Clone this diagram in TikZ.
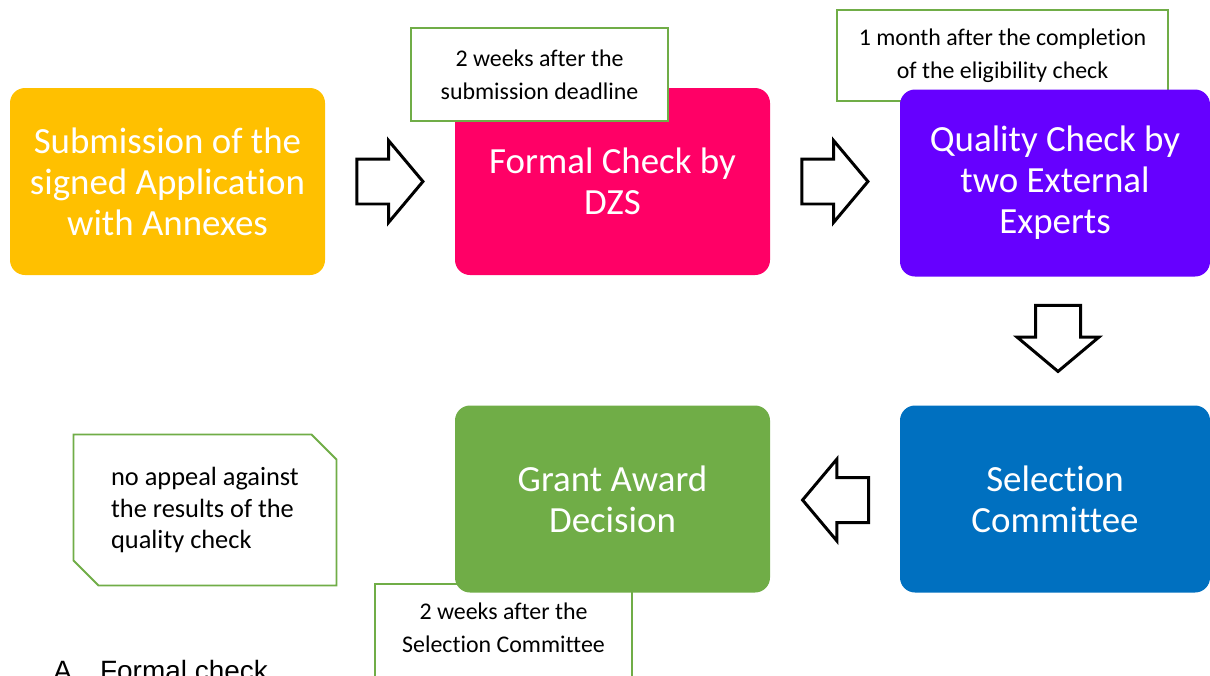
\documentclass[tikz,border=0pt]{standalone}
\usepackage{fontspec}
\setmainfont{Carlito}[Ligatures=NoCommon]
\newfontfamily\arialfont{Liberation Sans}
\usetikzlibrary{shapes.arrows,shapes.misc}

\definecolor{subyellow}{HTML}{FFC000}
\definecolor{checkpink}{HTML}{FF0066}
\definecolor{qualpurple}{HTML}{6600FF}
\definecolor{selblue}{HTML}{0070C0}
\definecolor{grantgreen}{HTML}{70AD47}

\begin{document}
\begin{tikzpicture}[
    stage/.style={rounded corners=0.3cm, minimum width=6.3cm, minimum height=3.74cm, align=center, text=white, inner sep=0pt, font=\fontsize{21}{23.3}\selectfont},
    note/.style={draw=grantgreen, line width=1.1pt, fill=white, align=center, inner sep=0pt, font=\fontsize{13.6}{18.7}\selectfont},
    bigarr/.style={single arrow, draw=black, fill=white, line width=1.7pt, minimum height=1.32cm, inner xsep=0pt, inner ysep=0.42cm, single arrow head extend=0.37cm, single arrow tip angle=100},
]
\useasboundingbox (0,0) rectangle (24.2,-13.5);
\clip (0,0) rectangle (24.2,-13.5);

% --- Row 1: Submission and Formal Check ---
\node[stage, fill=subyellow] (submit) at (3.35,-3.63) {Submission of the\\signed Application\\with Annexes};
\node[stage, fill=checkpink] (formal) at (12.25,-3.63) {Formal Check by\\DZS};
\node[note, minimum width=5.14cm, minimum height=1.86cm] (formalnote) at (10.79,-1.49) {2 weeks after the\\submission deadline};

% --- Row 1: Quality Check (covers its note) ---
\node[note, minimum width=6.62cm, minimum height=1.82cm] (qualnote) at (20.05,-1.11) {1 month after the completion\\of the eligibility check};
\node[stage, fill=qualpurple, minimum width=6.2cm] (quality) at (21.1,-3.66) {Quality Check by\\two External\\Experts};

% --- Row 2: Selection Committee and Grant Award ---
\node[stage, fill=selblue, minimum width=6.2cm] (select) at (21.1,-9.98) {Selection\\Committee};
\node[draw=grantgreen, line width=1.1pt, fill=white, minimum width=5.14cm, minimum height=2.4cm] (grantnote) at (10.07,-12.88) {};
\node[font=\fontsize{13.6}{18.7}\selectfont, align=center] (granttext) at (10.07,-12.56) {2 weeks after the\\Selection Committee};
\node[stage, fill=grantgreen] (grant) at (12.25,-9.98) {Grant Award\\Decision};

% --- Appeal note ---
\node[note, chamfered rectangle, chamfered rectangle corners={north east, south west}, chamfered rectangle xsep=0.25cm, chamfered rectangle ysep=0.25cm, minimum width=5.26cm, minimum height=3.02cm, align=left, font=\fontsize{15}{18.1}\selectfont] (appeal) at (4.1,-10.2) {no appeal against\\the results of the\\quality check};

% === Block arrows between stages ===
\node[bigarr] (a1) at (7.61,-3.63) {};
\node[bigarr] (a2) at (16.51,-3.63) {};
\node[bigarr, rotate=-90] (a3) at (21.16,-6.58) {};
\node[bigarr, rotate=180] (a4) at (16.9,-10.0) {};

% === Heading cut off at the bottom ===
\node[font=\arialfont\fontsize{15.9}{19}\selectfont, anchor=base west, inner sep=0pt] (secA) at (1.06,-13.6) {A\hspace{16pt}Formal check};

\end{tikzpicture}
\end{document}
